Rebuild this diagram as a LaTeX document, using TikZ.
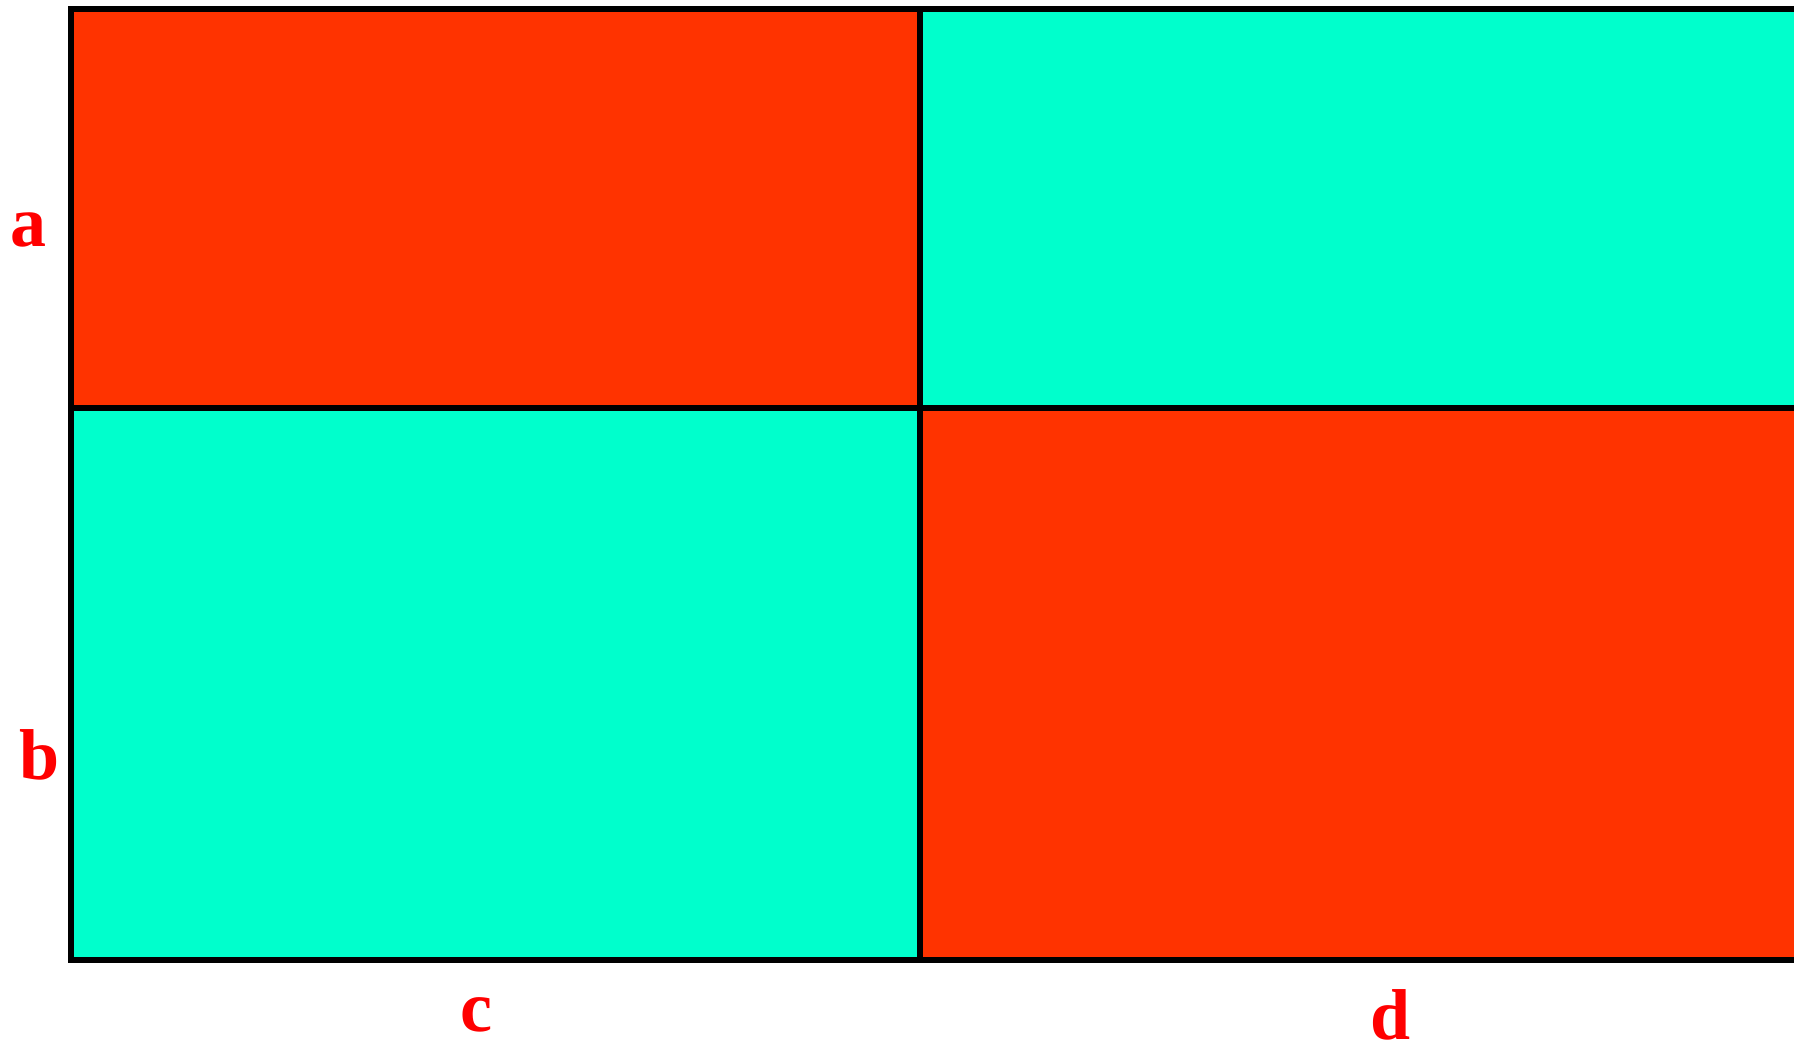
\documentclass[tikz,border=0pt]{standalone}
\usepackage{fontspec}
\setmainfont{Liberation Serif}
\definecolor{cellred}{HTML}{FF3300}
\definecolor{cellcyan}{HTML}{00FFCC}
\definecolor{labelred}{HTML}{FF0000}
\begin{document}
\begin{tikzpicture}[x=1pt,y=-1pt,
  lbl/.style={text=labelred,font=\fontsize{72}{80}\selectfont\bfseries,inner sep=0pt},
  grid line/.style={line width=6pt,black}]
\useasboundingbox (0,0) rectangle (1794,1045);
\fill[cellred] (71,9) rectangle (919.5,408);
\fill[cellcyan] (919.5,9) rectangle (1800,408);
\fill[cellcyan] (71,408) rectangle (919.5,960);
\fill[cellred] (919.5,408) rectangle (1800,960);
\draw[grid line] (68,9) -- (1800,9);
\draw[grid line] (68,408) -- (1800,408);
\draw[grid line] (68,960) -- (1800,960);
\draw[grid line] (71,6) -- (71,963);
\draw[grid line] (919.5,6) -- (919.5,963);
\node[lbl] (la) at (28,230) {a};
\node[lbl] (lb) at (40,755) {b};
\node[lbl] (lc) at (476,1015) {c};
\node[lbl] (ld) at (1391,1015) {d};
\end{tikzpicture}
\end{document}
